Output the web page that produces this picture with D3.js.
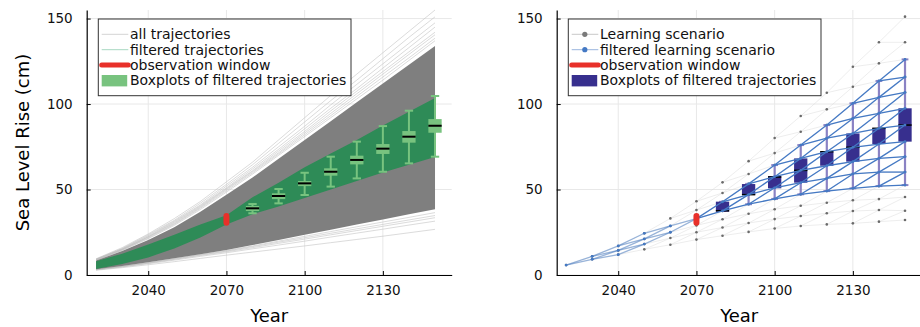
<!DOCTYPE html>
<html>
<head>
<meta charset="utf-8">
<script src="https://cdn.jsdelivr.net/npm/d3@7"></script>
<style>
  body { margin: 0; background: #fff; }
  text { font-family: "DejaVu Sans", sans-serif; }
</style>
</head>
<body>
<svg id="chart" width="920" height="327"></svg>
<script>

// decades shared by both panels
var years = [2020, 2030, 2040, 2050, 2060, 2070, 2080, 2090, 2100, 2110, 2120, 2130, 2140, 2150];
var xTicks = [2040, 2070, 2100, 2130];
var yTicks = [0, 50, 100, 150];

// left: dense core of all trajectories (lower / upper edge)
var allCoreLo = [3.3, 5.2, 7.4, 9.8, 12.2, 14.6, 17.5, 20.5, 23.5, 26.5, 29.5, 32.5, 35.5, 38.5];
var allCoreHi = [8.5, 14, 20.5, 28, 37, 47, 57, 68, 79, 90, 101, 112, 123, 134];

// left: single trajectories outside the core
var upperFringe = [
  [9.5, 16, 24, 33, 43, 54.5, 66, 79, 92, 105, 117.5, 130, 142.5, 155],
  [9.3, 15.5, 23.5, 32, 42, 53, 64.5, 77, 89.5, 102, 114, 126.5, 139, 151],
  [9.2, 15.3, 23, 31.5, 41, 52, 63, 75, 87, 99.5, 111.5, 123.5, 135.5, 147.5],
  [9, 15, 22.5, 31, 40.5, 51, 62, 73.5, 85.5, 97.5, 109, 121, 133, 145],
  [9, 15, 22.3, 30.5, 40, 50.5, 61, 72.5, 84, 96, 107.5, 119, 130.5, 142],
  [8.9, 14.8, 22, 30, 39.5, 50, 60.5, 71.5, 83, 94.5, 106, 117.5, 129, 140.5],
  [8.8, 14.6, 21.6, 29.6, 39, 49.3, 59.8, 70.8, 82, 93.2, 104.5, 115.8, 127, 138.5],
  [8.7, 14.4, 21.2, 29, 38.3, 48.5, 59, 70, 81, 92, 103, 114, 125.5, 137]
];
var lowerFringe = [
  [2.8, 4.3, 6, 7.8, 9.7, 11.6, 13.4, 15.2, 17, 18.9, 20.8, 22.7, 24.7, 26.7],
  [3, 4.7, 6.6, 8.7, 10.9, 13, 15.3, 17.5, 19.8, 22.2, 24.5, 26.8, 29.2, 31.5],
  [3.1, 4.9, 6.9, 9.1, 11.4, 13.6, 16, 18.5, 21, 23.5, 26, 28.5, 31, 33.5],
  [3.2, 5, 7.1, 9.4, 11.7, 14, 16.6, 19.2, 21.8, 24.4, 27, 29.6, 32.2, 34.8],
  [3.2, 5.1, 7.2, 9.6, 12, 14.3, 17, 19.8, 22.6, 25.4, 28.2, 31, 33.7, 36.5]
];

// left: envelope of filtered trajectories
var filtLo = [3.5, 6.5, 10.3, 15.5, 22.0, 29.5, 35.5, 40, 45, 50, 55, 60, 64.5, 69];
var filtHi = [8.0, 12.5, 17.8, 23.5, 29.5, 35.0, 45.5, 54, 63, 71, 79, 87.5, 95.5, 103.5];

// left: boxplots of filtered trajectories
var boxYears = [2080, 2090, 2100, 2110, 2120, 2130, 2140, 2150];
var boxWhiskLo = [36.1, 41.9, 46.8, 51.7, 56.5, 60.4, 65.3, 69.2];
var boxQ1 = [37.4, 44.4, 52.0, 58.1, 64.7, 70.8, 77.4, 83.2];
var boxMed = [39.0, 46.2, 53.6, 60.4, 67.3, 73.9, 80.9, 87.3];
var boxQ3 = [40.4, 47.8, 55.0, 62.4, 69.8, 76.6, 84.2, 91.2];
var boxWhiskHi = [41.5, 50.3, 59.8, 69.2, 78.0, 87.1, 96.1, 104.7];

// observation window
var obsYear = 2070;
var obsLo = 30.5, obsHi = 34.5;

// right: learning scenario tree, node values per decade (top to bottom)
var treeNodes = [
  [5.8],
  [10.9, 9.2],
  [17.0, 14.4, 11.9],
  [24.4, 21.1, 18.1, 15.0],
  [33.1, 28.7, 25.0, 21.6, 17.7],
  [43.1, 38.0, 33.0, 29.0, 25.0, 20.7],
  [54.2, 48.0, 42.8, 37.5, 32.6, 27.8, 23.0],
  [66.6, 59.1, 53.3, 47.0, 41.4, 35.8, 30.4, 25.2],
  [80.1, 71.3, 64.3, 57.5, 51.0, 44.5, 38.5, 32.7, 27.2],
  [93.0, 83.8, 76.0, 68.2, 61.2, 54.0, 47.2, 40.5, 34.5, 28.7],
  [106.6, 96.9, 87.7, 80.0, 72.1, 63.9, 56.5, 49.1, 42.3, 36.1, 29.6],
  [121.8, 110.1, 100.4, 91.6, 82.8, 74.7, 66.3, 59.1, 50.7, 43.7, 37.4, 30.2],
  [136.1, 123.8, 113.5, 103.9, 94.6, 85.8, 76.6, 68.2, 60.2, 52.0, 44.4, 38.0, 31.2],
  [151.1, 136.1, 126.1, 115.8, 106.8, 97.5, 87.7, 78.0, 69.2, 60.2, 52.6, 45.6, 37.6, 32.2]
];
// node inside the observation window (step 5 = 2070)
var obsStep = 5, obsIndex = 2;

// right: boxplots of filtered learning scenario
var lBoxQ1 = [37.0, 46.8, 50.7, 54.0, 63.9, 66.3, 76.6, 78.0];
var lBoxMed = [37.6, 47.0, 57.3, 61.2, 72.1, 74.7, 85.8, 87.7];
var lBoxQ3 = [42.9, 53.2, 57.9, 68.2, 72.1, 82.8, 85.8, 97.5];

var colGrayCore = "#7f7f7f",
    colGreen = "#2e8b57",
    colBox = "#78c37f",
    colRed = "#e8302a",
    colBlue = "#4479c4",
    colNavy = "#372f8e",
    colWhisk = "#8a82c4";

var svg = d3.select("#chart");

function makePanel(left) {
  var x = d3.scaleLinear().domain([2016.4, 2156.4]).range([left, left + 365]);
  var y = d3.scaleLinear().domain([0, 155]).range([275, 10]);
  var g = svg.append("g");

  // grid
  g.append("g").selectAll("line").data(xTicks).enter().append("line")
      .attr("x1", function(d) { return x(d); }).attr("x2", function(d) { return x(d); })
      .attr("y1", y(155)).attr("y2", y(0))
      .attr("stroke", "#e8e8e8").attr("stroke-width", 1);
  g.append("g").selectAll("line").data(yTicks).enter().append("line")
      .attr("x1", x.range()[0]).attr("x2", x.range()[1])
      .attr("y1", function(d) { return y(d); }).attr("y2", function(d) { return y(d); })
      .attr("stroke", "#e8e8e8").attr("stroke-width", 1);

  return {g: g, x: x, y: y};
}

function drawAxes(p) {
  var xAxis = p.g.append("g")
      .attr("transform", "translate(0," + p.y(0) + ")")
      .call(d3.axisBottom(p.x).tickValues(xTicks).tickFormat(d3.format("d"))
        .tickSize(-4).tickSizeOuter(0).tickPadding(10));
  var yAxis = p.g.append("g")
      .attr("transform", "translate(" + p.x.range()[0] + ",0)")
      .call(d3.axisLeft(p.y).tickValues(yTicks)
        .tickSize(-4).tickSizeOuter(0).tickPadding(14));
  [xAxis, yAxis].forEach(function(a) {
    a.select(".domain").attr("stroke", "#000").attr("stroke-width", 1.2);
    a.selectAll(".tick line").attr("stroke", "#000");
    a.selectAll("text").attr("font-size", "13.5px").attr("fill", "#111")
      .attr("font-family", "DejaVu Sans");
  });
  p.g.append("text")
      .attr("x", (p.x.range()[0] + p.x(2156.4 - 0.01)) / 2)
      .attr("y", 322)
      .attr("text-anchor", "middle")
      .attr("font-size", "18px")
      .text("Year");
}

function drawObs(p) {
  p.g.append("line")
      .attr("x1", p.x(obsYear)).attr("x2", p.x(obsYear))
      .attr("y1", p.y(obsLo)).attr("y2", p.y(obsHi))
      .attr("stroke", colRed).attr("stroke-width", 6)
      .attr("stroke-linecap", "round");
}

function drawLegend(p, x0, items) {
  var lg = p.g.append("g").attr("transform", "translate(" + x0 + ",19)");
  lg.append("rect").attr("width", 252.7).attr("height", 76.7)
      .attr("fill", "#fff").attr("stroke", "#333").attr("stroke-width", 1);
  items.forEach(function(it, i) {
    var cy = 15.3 + i * 15.4;
    var row = lg.append("g").attr("transform", "translate(0," + cy + ")");
    if (it.kind === "line") {
      row.append("line").attr("x1", 3.4).attr("x2", 30).attr("y1", 0).attr("y2", 0)
        .attr("stroke", it.color).attr("stroke-width", it.width || 1)
        .attr("stroke-linecap", it.width > 2 ? "round" : "butt");
      if (it.dot) {
        row.append("circle").attr("cx", 16.5).attr("cy", 0).attr("r", 2.6)
          .attr("fill", it.dot);
      }
    } else {
      row.append("rect").attr("x", 3.4).attr("y", -5.5).attr("width", 25.5).attr("height", 11.4)
        .attr("fill", it.color);
    }
    row.append("text").attr("x", 31.7).attr("y", 0).attr("dy", "0.35em")
      .attr("font-size", "14px").attr("fill", "#111").text(it.label);
  });
}

// ---------------- left panel ----------------
var L = makePanel(86.7);
var lineGen = d3.line().x(function(d, i) { return L.x(years[i]); }).y(function(d) { return L.y(d); });

L.g.append("g").selectAll("path").data(upperFringe.concat(lowerFringe)).enter().append("path")
    .attr("d", lineGen)
    .attr("fill", "none").attr("stroke", "#bdbdbd").attr("stroke-opacity", 0.55).attr("stroke-width", 1);

L.g.append("path")
    .datum(years)
    .attr("d", d3.area()
      .x(function(d) { return L.x(d); })
      .y0(function(d, i) { return L.y(allCoreLo[i]); })
      .y1(function(d, i) { return L.y(allCoreHi[i]); }))
    .attr("fill", colGrayCore);

L.g.append("path")
    .datum(years)
    .attr("d", d3.area()
      .x(function(d) { return L.x(d); })
      .y0(function(d, i) { return L.y(filtLo[i]); })
      .y1(function(d, i) { return L.y(filtHi[i]); }))
    .attr("fill", colGreen);

var bw = 2.55, cw = 1.6;
var lb = L.g.append("g").selectAll("g").data(boxYears).enter().append("g");
lb.append("line")
    .attr("x1", function(d) { return L.x(d); }).attr("x2", function(d) { return L.x(d); })
    .attr("y1", function(d, i) { return L.y(boxWhiskLo[i]); })
    .attr("y2", function(d, i) { return L.y(boxWhiskHi[i]); })
    .attr("stroke", colBox).attr("stroke-width", 2);
lb.append("line")
    .attr("x1", function(d) { return L.x(d - cw); }).attr("x2", function(d) { return L.x(d + cw); })
    .attr("y1", function(d, i) { return L.y(boxWhiskLo[i]); })
    .attr("y2", function(d, i) { return L.y(boxWhiskLo[i]); })
    .attr("stroke", colBox).attr("stroke-width", 2);
lb.append("line")
    .attr("x1", function(d) { return L.x(d - cw); }).attr("x2", function(d) { return L.x(d + cw); })
    .attr("y1", function(d, i) { return L.y(boxWhiskHi[i]); })
    .attr("y2", function(d, i) { return L.y(boxWhiskHi[i]); })
    .attr("stroke", colBox).attr("stroke-width", 2);
lb.append("rect")
    .attr("x", function(d) { return L.x(d - bw); })
    .attr("width", function(d) { return L.x(d + bw) - L.x(d - bw); })
    .attr("y", function(d, i) { return L.y(boxQ3[i]); })
    .attr("height", function(d, i) { return L.y(boxQ1[i]) - L.y(boxQ3[i]); })
    .attr("fill", colBox);
lb.append("line")
    .attr("x1", function(d) { return L.x(d - bw); }).attr("x2", function(d) { return L.x(d + bw); })
    .attr("y1", function(d, i) { return L.y(boxMed[i]); })
    .attr("y2", function(d, i) { return L.y(boxMed[i]); })
    .attr("stroke", "#000").attr("stroke-width", 2);

drawObs(L);
drawAxes(L);

L.g.append("text")
    .attr("transform", "translate(29," + (L.y(0) + L.y(155)) / 2 + ") rotate(-90)")
    .attr("text-anchor", "middle")
    .attr("font-size", "18px")
    .text("Sea Level Rise (cm)");

drawLegend(L, 98.3, [
  {kind: "line", color: "#d4d4d4", label: "all trajectories"},
  {kind: "line", color: "#a8d8c2", label: "filtered trajectories"},
  {kind: "line", color: colRed, width: 5, label: "observation window"},
  {kind: "rect", color: colBox, label: "Boxplots of filtered trajectories"}
]);

// ---------------- right panel ----------------
var R = makePanel(556.7);

function isFiltered(t, i) {
  if (t <= obsStep) return i <= obsIndex && (t - i) <= (obsStep - obsIndex);
  return i >= obsIndex && (i - obsIndex) <= (t - obsStep);
}

var edges = [];
treeNodes.forEach(function(col, t) {
  if (t === treeNodes.length - 1) return;
  col.forEach(function(v, i) {
    [i, i + 1].forEach(function(j) {
      edges.push({t: t, v0: v, v1: treeNodes[t + 1][j],
        blue: isFiltered(t, i) && isFiltered(t + 1, j)});
    });
  });
});
var nodes = [];
treeNodes.forEach(function(col, t) {
  col.forEach(function(v, i) { nodes.push({t: t, v: v, blue: isFiltered(t, i)}); });
});

R.g.append("g").selectAll("line").data(edges).enter().append("line")
    .attr("x1", function(d) { return R.x(years[d.t]); })
    .attr("x2", function(d) { return R.x(years[d.t + 1]); })
    .attr("y1", function(d) { return R.y(d.v0); })
    .attr("y2", function(d) { return R.y(d.v1); })
    .attr("stroke", "#d9d9d9").attr("stroke-opacity", 0.6).attr("stroke-width", 0.8);

R.g.append("g").selectAll("circle").data(nodes).enter().append("circle")
    .attr("cx", function(d) { return R.x(years[d.t]); })
    .attr("cy", function(d) { return R.y(d.v); })
    .attr("r", 1.3).attr("fill", "#6a6a6a");

// whiskers span the filtered nodes
var lBoxWhiskLo = boxYears.map(function(yr) {
  var t = years.indexOf(yr);
  return d3.min(treeNodes[t].filter(function(v, i) { return isFiltered(t, i); }));
});
var lBoxWhiskHi = boxYears.map(function(yr) {
  var t = years.indexOf(yr);
  return d3.max(treeNodes[t].filter(function(v, i) { return isFiltered(t, i); }));
});

var rb = R.g.append("g").selectAll("g").data(boxYears).enter().append("g");
rb.append("line")
    .attr("x1", function(d) { return R.x(d); }).attr("x2", function(d) { return R.x(d); })
    .attr("y1", function(d, i) { return R.y(lBoxWhiskLo[i]); })
    .attr("y2", function(d, i) { return R.y(lBoxWhiskHi[i]); })
    .attr("stroke", colWhisk).attr("stroke-width", 2.2);
[lBoxWhiskLo, lBoxWhiskHi].forEach(function(arr) {
  rb.append("line")
      .attr("x1", function(d) { return R.x(d - 1.3); }).attr("x2", function(d) { return R.x(d + 1.3); })
      .attr("y1", function(d, i) { return R.y(arr[i]); })
      .attr("y2", function(d, i) { return R.y(arr[i]); })
      .attr("stroke", colWhisk).attr("stroke-width", 2);
});

R.g.append("g").selectAll("line").data(edges.filter(function(e) { return e.blue; })).enter().append("line")
    .attr("x1", function(d) { return R.x(years[d.t]); })
    .attr("x2", function(d) { return R.x(years[d.t + 1]); })
    .attr("y1", function(d) { return R.y(d.v0); })
    .attr("y2", function(d) { return R.y(d.v1); })
    .attr("stroke", colBlue)
    .attr("stroke-opacity", function(d) { return d.t < obsStep ? 0.5 : 1; })
    .attr("stroke-width", 1.3);

R.g.append("g").selectAll("circle").data(nodes.filter(function(n) { return n.blue; })).enter().append("circle")
    .attr("cx", function(d) { return R.x(years[d.t]); })
    .attr("cy", function(d) { return R.y(d.v); })
    .attr("r", 1.4).attr("fill", colBlue);

rb.append("rect")
    .attr("x", function(d) { return R.x(d - bw); })
    .attr("width", function(d) { return R.x(d + bw) - R.x(d - bw); })
    .attr("y", function(d, i) { return R.y(lBoxQ3[i]); })
    .attr("height", function(d, i) { return Math.max(R.y(lBoxQ1[i]) - R.y(lBoxQ3[i]), 1); })
    .attr("fill", colNavy).raise();
rb.append("line")
    .attr("x1", function(d) { return R.x(d - bw); }).attr("x2", function(d) { return R.x(d + bw); })
    .attr("y1", function(d, i) { return R.y(lBoxMed[i]); })
    .attr("y2", function(d, i) { return R.y(lBoxMed[i]); })
    .attr("stroke", "#000").attr("stroke-width", 1.5);
rb.raise();

drawObs(R);
drawAxes(R);

drawLegend(R, 568.3, [
  {kind: "line", color: "#c8c8c8", dot: "#7a7a7a", label: "Learning scenario"},
  {kind: "line", color: "#9ab6de", dot: colBlue, label: "filtered learning scenario"},
  {kind: "line", color: colRed, width: 5, label: "observation window"},
  {kind: "rect", color: colNavy, label: "Boxplots of filtered trajectories"}
]);

</script>
</body>
</html>
